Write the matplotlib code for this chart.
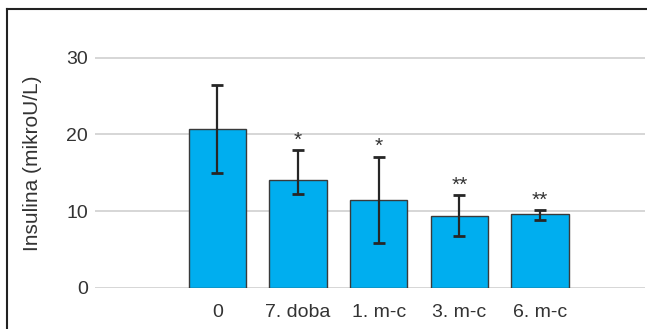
import matplotlib
matplotlib.use("Agg")
import matplotlib.pyplot as plt
from matplotlib.lines import Line2D
import numpy as np

# Serum insulin over follow-up
categories = ["0", "7. doba", "1. m-c", "3. m-c", "6. m-c"]
means = [20.7, 14.1, 11.4, 9.4, 9.6]
upper = [26.4, 17.95, 17.1, 12.05, 10.1]
lower = [15.0, 12.2, 5.8, 6.75, 8.8]
significance = ["", "*", "*", "**", "**"]
y_ticks = [0, 10, 20, 30]

plt.rcParams["font.family"] = ["Liberation Sans", "DejaVu Sans"]
FS = 15
TICK_FS = 14
TXT = "#333333"

W, H = 647, 329
fig = plt.figure(figsize=(W / 100, H / 100), dpi=100)
ax = fig.add_axes([95 / W, (H - 287.7) / H, 550 / W, (287.7 - 19.3) / H])

x = np.arange(len(categories))
means_a = np.array(means)
yerr = np.vstack([means_a - np.array(lower), np.array(upper) - means_a])

ax.bar(x, means, width=0.71, color="#00AEEF", edgecolor="#3a3a3a",
       linewidth=1.0, zorder=3)
ax.errorbar(x, means, yerr=yerr, fmt="none", ecolor="#262626",
            elinewidth=1.6, capsize=4.3, capthick=2.0, zorder=4)

for xi, top, lab in zip(x, upper, significance):
    if lab:
        ax.annotate(lab, (xi, top), xytext=(0, 0.5), textcoords="offset points",
                    ha="center", va="bottom", fontsize=FS, color=TXT)

ax.set_xlim(-1.514, 5.30)
ax.set_ylim(0, 35)
ax.set_yticks(y_ticks)
ax.set_xticks(x)
ax.set_xticklabels(categories)
ax.yaxis.grid(True, color="#cfcfcf", linewidth=1.2, zorder=0)
ax.set_axisbelow(True)
for s in ax.spines.values():
    s.set_visible(False)
ax.tick_params(axis="both", length=0, labelsize=TICK_FS, labelcolor=TXT)
ax.tick_params(axis="x", pad=11.5)
ax.tick_params(axis="y", pad=5)

ax.set_ylabel("Insulina (mikroU/L)", fontsize=FS, color=TXT)
ax.yaxis.set_label_coords(-0.0964, 0.4646)

# outer frame (top and left edges)
fig.add_artist(Line2D([7 / W, 1.0], [(H - 9.3) / H] * 2, transform=fig.transFigure,
                      color="#222222", linewidth=1.5))
fig.add_artist(Line2D([7 / W] * 2, [0, (H - 9.3) / H], transform=fig.transFigure,
                      color="#222222", linewidth=1.5))

fig.savefig("out.png", dpi=100)
